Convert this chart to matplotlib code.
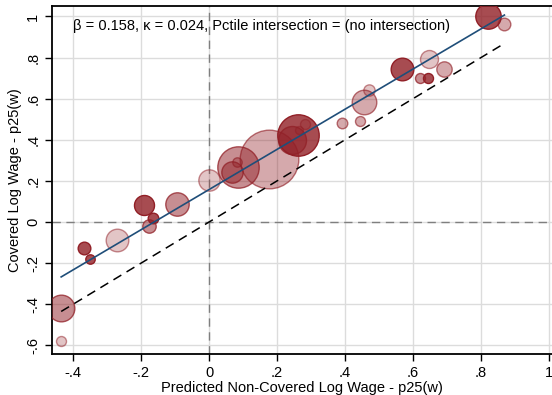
import matplotlib.pyplot as plt
import numpy as np

plt.rcParams["font.family"] = ["Liberation Sans", "DejaVu Sans"]

# bubble data: predicted non-covered (x), covered (y), weight (area), shade level
pred_noncov = [-0.436, -0.436, -0.368, -0.351, -0.272, -0.190, -0.164, -0.176, -0.095,
               0.001, 0.084, 0.067, 0.083, 0.177, 0.261, 0.243, 0.282, 0.266,
               0.392, 0.443, 0.457, 0.472, 0.569, 0.620, 0.645, 0.648, 0.692,
               0.821, 0.869]
covered = [-0.420, -0.579, -0.127, -0.180, -0.086, 0.084, 0.021, -0.019, 0.089,
           0.204, 0.269, 0.242, 0.293, 0.307, 0.423, 0.399, 0.477, 0.448,
           0.480, 0.493, 0.584, 0.642, 0.743, 0.701, 0.701, 0.792, 0.746,
           1.004, 0.964]
weight = [178, 25, 40, 22, 128, 100, 28, 45, 137,
          114, 428, 114, 22, 860, 428, 196, 25, 16,
          28, 25, 151, 32, 128, 25, 25, 81, 59,
          161, 40]
# 1 = lightest ... 4 = darkest
shade = [3, 1, 4, 4, 1, 4, 4, 3, 3,
         1, 3, 3, 2, 2, 4, 3, 1, 1,
         2, 2, 2, 1, 4, 3, 4, 1, 2,
         4, 2]

beta = 0.158
slope = 0.977
x_min, x_max = -0.435, 0.869

x_ticks = [-0.4, -0.2, 0, 0.2, 0.4, 0.6, 0.8, 1]
x_tick_labels = ["-.4", "-.2", "0", ".2", ".4", ".6", ".8", "1"]
y_ticks = [-0.6, -0.4, -0.2, 0, 0.2, 0.4, 0.6, 0.8, 1]
y_tick_labels = ["-.6", "-.4", "-.2", "0", ".2", ".4", ".6", ".8", "1"]

fig = plt.figure(figsize=(5.52, 3.95), dpi=100)
ax = fig.add_axes([0.0942, 0.1038, 0.9058, 0.881])

base = np.array([0.57, 0.12, 0.15])
alpha_of = {1: 0.26, 2: 0.38, 3: 0.5, 4: 0.8}
px_to_pt = 72 / 100
for x, y, w, s in zip(pred_noncov, covered, weight, shade):
    a = alpha_of[s]
    diam = 2 * np.sqrt(w) * px_to_pt
    ax.scatter([x], [y], s=diam ** 2, color=(*base, a),
               edgecolor=(*base, min(a + 0.25, 1)), linewidth=1.0, zorder=3)

xs = np.array([x_min, x_max])
ax.plot(xs, beta + slope * xs, color="#1f4e79", lw=1.2, zorder=4)
ax.plot(xs, xs, color="black", lw=1.1, ls=(0, (6, 4)), zorder=4)

ax.axvline(0, color="#7f7f7f", lw=1.0, ls=(0, (6, 4)), zorder=2)
ax.axhline(0, color="#7f7f7f", lw=1.0, ls=(0, (6, 4)), zorder=2)

ax.set_xlim(-0.462, 1.009)
ax.set_ylim(-0.642, 1.051)
ax.set_xticks(x_ticks)
ax.set_xticklabels(x_tick_labels)
ax.set_yticks(y_ticks)
ax.set_yticklabels(y_tick_labels, rotation=90, va="center")
ax.grid(True, color="#dcdcdc", lw=1.0, zorder=0)
ax.set_axisbelow(True)
ax.tick_params(direction="out", length=5, width=1, labelsize=10.5, colors="black")

for side in ["left", "bottom", "top"]:
    ax.spines[side].set_linewidth(1.3)
    ax.spines[side].set_color("black")
ax.spines["right"].set_visible(False)

ax.set_xlabel("Predicted Non-Covered Log Wage - p25(w)", fontsize=10.5, labelpad=1)
ax.set_ylabel("Covered Log Wage - p25(w)", fontsize=10.5, labelpad=3)

ax.text(-0.40, 0.955, "\u03b2 = 0.158, \u03ba = 0.024, Pctile intersection = (no intersection)",
        fontsize=10.5, va="center", ha="left", zorder=5)

fig.savefig("out.png", dpi=100)
